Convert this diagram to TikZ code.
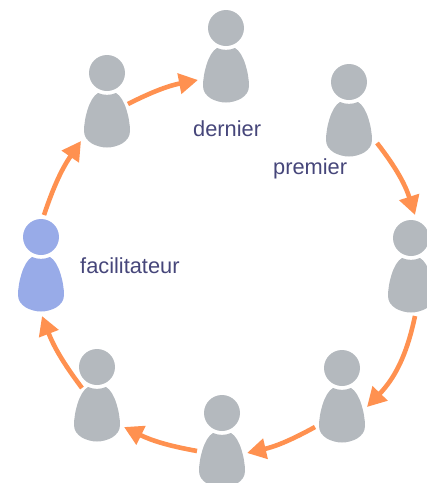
\documentclass[tikz,border=0pt]{standalone}
\usepackage{fontspec}
\setmainfont{Liberation Sans}
\usetikzlibrary{arrows.meta}
\definecolor{personGray}{HTML}{B4B9BE}
\definecolor{personBlue}{HTML}{98ABE8}
\definecolor{arrowOrange}{HTML}{FF9150}
\definecolor{labelInk}{HTML}{46467A}
\tikzset{
  x=1pt,y=-1pt,
  person/.pic={
    \fill[pic actions] (0,0) circle[radius=18];
    \fill[pic actions] (-9,20) .. controls (-3,22.5) and (3,22.5) .. (9,20)
      .. controls (18,25) and (23,46) .. (23,58)
      .. controls (23,69) and (10,74.5) .. (0,74.5)
      .. controls (-10,74.5) and (-23,69) .. (-23,58)
      .. controls (-23,46) and (-18,25) .. (-9,20) -- cycle;
  },
  gray person/.style={fill=personGray},
  blue person/.style={fill=personBlue},
  flow/.style={draw=arrowOrange,line width=4.6pt,-{Triangle[length=19pt,width=20pt,fill=arrowOrange]}},
  caption/.style={text=labelInk,font=\fontsize{21.8}{24}\selectfont,anchor=base west,inner sep=0pt},
}
\begin{document}
\begin{tikzpicture}
\useasboundingbox (0,0) rectangle (427,483);
\begin{scope}
\clip (0,0) rectangle (427,483);
\pic[blue person] at (41,237) {person};
\pic[gray person] at (107,73) {person};
\pic[gray person] at (226,28) {person};
\pic[gray person] at (349,82) {person};
\pic[gray person] at (411,238) {person};
\pic[gray person] at (342,368) {person};
\pic[gray person] at (222,413) {person};
\pic[gray person] at (97,367) {person};
\end{scope}
\node[caption] (lfac) at (80,273) {facilitateur};
\node[caption] (lder) at (193,136) {dernier};
\node[caption] (lpre) at (273,174) {premier};
\coordinate (a1) at (44,215); \coordinate (b1) at (81,141);
\coordinate (a2) at (128,104); \coordinate (b2) at (198,80);
\coordinate (a3) at (377,143); \coordinate (b3) at (415,215);
\coordinate (a4) at (415,316); \coordinate (b4) at (367,407);
\coordinate (a5) at (315,427); \coordinate (b5) at (247,453);
\coordinate (a6) at (197,451); \coordinate (b6) at (124,427);
\coordinate (a7) at (82,388); \coordinate (b7) at (42,316);
\draw[flow] (a1) to[bend left=8] (b1);
\draw[flow] (a2) to[bend left=8] (b2);
\draw[flow] (a3) to[bend left=10] (b3);
\draw[flow] (a4) to[bend left=16] (b4);
\draw[flow] (a5) to[bend left=8] (b5);
\draw[flow] (a6) to[bend left=8] (b6);
\draw[flow] (a7) to[bend left=8] (b7);
\end{tikzpicture}
\end{document}
